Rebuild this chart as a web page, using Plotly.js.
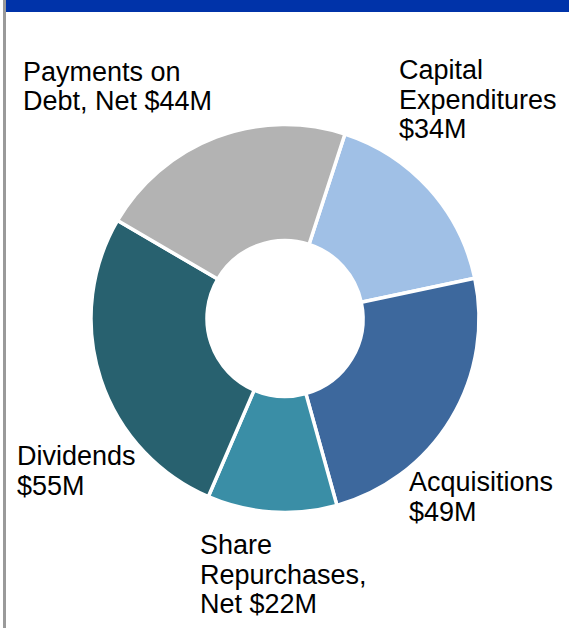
<!DOCTYPE html>
<html>
<head>
<meta charset="utf-8">
<script src="https://cdn.plot.ly/plotly-3.0.1.min.js"></script>
<style>
  html, body { margin: 0; padding: 0; background: #fff; }
  #chart { width: 569px; height: 628px; }
</style>
</head>
<body>
<div id="chart"></div>
<script>
// uses of cash, $M
var categories = ["Capital Expenditures", "Acquisitions", "Share Repurchases, Net", "Dividends", "Payments on Debt, Net"];
var values = [34, 49, 22, 55, 44];
var labels = [
  "Capital<br>Expenditures<br>$34M",
  "Acquisitions<br>$49M",
  "Share<br>Repurchases,<br>Net $22M",
  "Dividends<br>$55M",
  "Payments on<br>Debt, Net $44M"
];
var colors = ["#A0C0E6", "#3D689D", "#3A8EA6", "#28616F", "#B3B3B3"];

// label placement in page pixels: left edge, centre of first line
var labelX = [397, 407, 198, 15, 21];
var labelY = [70, 482, 545, 456, 72];
var lineGap = 29.5;

var W = 569, H = 628;
var cx = 285, cy = 318.5, R = 194;

var annotations = [];
for (var i = 0; i < labels.length; i++) {
  var lines = labels[i].split("<br>");
  for (var j = 0; j < lines.length; j++) {
    annotations.push({
      xref: "paper", yref: "paper",
      x: labelX[i] / W,
      y: 1 - (labelY[i] + j * lineGap) / H,
      xanchor: "left", yanchor: "middle",
      text: lines[j],
      showarrow: false,
      font: { family: "Liberation Sans, Arial, sans-serif", size: 27, color: "#000" }
    });
  }
}

var data = [{
  type: "pie",
  labels: categories,
  values: values,
  sort: false,
  direction: "clockwise",
  rotation: 18,
  hole: 0.402,
  textinfo: "none",
  hoverinfo: "label+value",
  marker: { colors: colors, line: { color: "#fff", width: 3.5 } },
  domain: {
    x: [(cx - R) / W, (cx + R) / W],
    y: [1 - (cy + R) / H, 1 - (cy - R) / H]
  }
}];

var layout = {
  width: W, height: H,
  margin: { l: 0, r: 0, t: 0, b: 0 },
  paper_bgcolor: "#fff",
  showlegend: false,
  annotations: annotations,
  shapes: [
    { type: "rect", xref: "paper", yref: "paper", x0: 6 / W, x1: 1, y0: 1 - 12 / H, y1: 1,
      fillcolor: "#0033A9", line: { width: 0 } },
    { type: "rect", xref: "paper", yref: "paper", x0: 3 / W, x1: 6 / W, y0: 0, y1: 1,
      fillcolor: "#9A9A9A", line: { width: 0 } }
  ]
};

Plotly.newPlot("chart", data, layout, { displayModeBar: false, staticPlot: true });
</script>
</body>
</html>
